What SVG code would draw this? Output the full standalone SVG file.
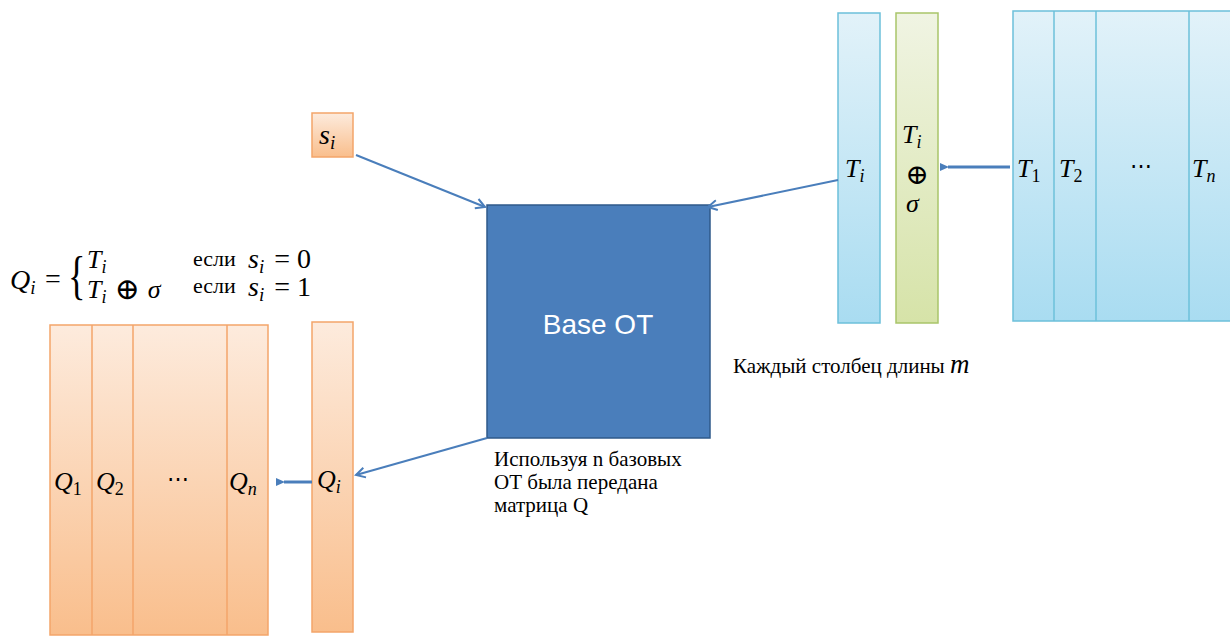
<svg xmlns="http://www.w3.org/2000/svg" width="1230" height="639" viewBox="0 0 1230 639">
<defs>
<linearGradient id="gOrange" x1="0" y1="0" x2="0" y2="1">
<stop offset="0" stop-color="#FDEBDD"/><stop offset="1" stop-color="#F9BE8C"/>
</linearGradient>
<linearGradient id="gBlue" x1="0" y1="0" x2="0" y2="1">
<stop offset="0" stop-color="#E2F2F9"/><stop offset="1" stop-color="#A9DCF1"/>
</linearGradient>
<linearGradient id="gGreen" x1="0" y1="0" x2="0" y2="1">
<stop offset="0" stop-color="#F0F4E3"/><stop offset="1" stop-color="#D6E3A8"/>
</linearGradient>
<marker id="arrOpen" markerWidth="12" markerHeight="12" refX="10" refY="6" orient="auto" markerUnits="userSpaceOnUse">
<path d="M1,1 L10,6 L1,11" fill="none" stroke="#4A7EBB" stroke-width="2"/>
</marker>
<marker id="arrHead" markerWidth="12" markerHeight="10" refX="2" refY="5" orient="auto" markerUnits="userSpaceOnUse">
<path d="M10,1 L1,5 L10,9 Z" fill="#4A7EBB"/>
</marker>
</defs>
<style>
.m{font-family:'Liberation Serif','DejaVu Serif',serif;font-style:italic;fill:#000}
.r{font-family:'Liberation Serif','DejaVu Serif',serif;fill:#000}
.or{fill:url(#gOrange);stroke:#F3A56A;stroke-width:1.5}
.bl{fill:url(#gBlue);stroke:#6CC0DA;stroke-width:1.5}
.gr{fill:url(#gGreen);stroke:#A9C56A;stroke-width:1.5}
.c{stroke:#4A7EBB;stroke-width:2;fill:none}
</style>

<g id="formula">
<text class="m" x="10" y="289" font-size="28">Q<tspan font-size="19" dy="5">i</tspan></text>
<text class="r" x="45" y="288" font-size="28">=</text>
<text class="r" x="68" y="293" font-size="52" transform="translate(68 287) scale(0.7 1) translate(-68 -287)">{</text>
<text class="m" x="87" y="268" font-size="26">T<tspan font-size="18" dy="5">i</tspan></text>
<text class="m" x="87" y="298" font-size="26">T<tspan font-size="18" dy="5">i</tspan><tspan font-style="normal" font-size="30" dy="-4" dx="8">⊕</tspan><tspan dy="-1" dx="8">σ</tspan></text>
<text class="r" x="193" y="266" font-size="22">если</text>
<text class="r" x="193" y="293" font-size="22">если</text>
<text class="m" x="248" y="268" font-size="28">s<tspan font-size="19" dy="5">i</tspan><tspan font-style="normal" dy="-5" dx="10">= 0</tspan></text>
<text class="m" x="248" y="296" font-size="28">s<tspan font-size="19" dy="5">i</tspan><tspan font-style="normal" dy="-5" dx="10">= 1</tspan></text>
</g>

<g id="s-i">
<rect class="or" x="312" y="113" width="41" height="44"/>
<text class="m" x="319" y="144" font-size="28">s<tspan font-size="19" dy="5">i</tspan></text>
</g>

<g id="base-ot">
<rect x="487" y="205" width="223" height="233" fill="#4A7EBB" stroke="#2F5A8A" stroke-width="1.5"/>
<text x="598" y="334" font-family="'Liberation Sans',Arial,sans-serif" font-size="28" fill="#FFFFFF" text-anchor="middle">Base OT</text>
</g>

<g id="col-T-i">
<rect class="bl" x="838" y="13" width="42" height="310"/>
<text class="m" x="845" y="177" font-size="26">T<tspan font-size="18" dy="5">i</tspan></text>
</g>

<g id="col-T-i-xor">
<rect class="gr" x="896" y="13" width="42" height="310"/>
<text class="m" x="902" y="143" font-size="26">T<tspan font-size="18" dy="5">i</tspan></text>
<text class="r" x="917" y="184" font-size="28" text-anchor="middle">⊕</text>
<text class="m" x="906" y="212" font-size="26">σ</text>
</g>

<g id="matrix-T">
<rect class="bl" x="1013" y="11" width="230" height="310"/>
<line x1="1054" y1="11" x2="1054" y2="321" stroke="#6CC0DA" stroke-width="1.5"/>
<line x1="1096" y1="11" x2="1096" y2="321" stroke="#6CC0DA" stroke-width="1.5"/>
<line x1="1189" y1="11" x2="1189" y2="321" stroke="#6CC0DA" stroke-width="1.5"/>
<text class="m" x="1017" y="177" font-size="26">T<tspan font-size="18" font-style="normal" dy="5">1</tspan></text>
<text class="m" x="1059" y="177" font-size="26">T<tspan font-size="18" font-style="normal" dy="5">2</tspan></text>
<text class="r" x="1141" y="173" font-size="22" text-anchor="middle">⋯</text>
<text class="m" x="1192" y="177" font-size="26">T<tspan font-size="18" dy="5">n</tspan></text>
</g>

<g id="col-Q-i">
<rect class="or" x="312" y="322" width="41" height="310"/>
<text class="m" x="317" y="488" font-size="26">Q<tspan font-size="18" dy="5">i</tspan></text>
</g>

<g id="matrix-Q">
<rect class="or" x="50" y="325" width="218" height="310"/>
<line x1="92" y1="325" x2="92" y2="635" stroke="#F3A56A" stroke-width="1.5"/>
<line x1="133" y1="325" x2="133" y2="635" stroke="#F3A56A" stroke-width="1.5"/>
<line x1="227" y1="325" x2="227" y2="635" stroke="#F3A56A" stroke-width="1.5"/>
<text class="m" x="54" y="490" font-size="26">Q<tspan font-size="18" font-style="normal" dy="5">1</tspan></text>
<text class="m" x="96" y="490" font-size="26">Q<tspan font-size="18" font-style="normal" dy="5">2</tspan></text>
<text class="r" x="178" y="486" font-size="22" text-anchor="middle">⋯</text>
<text class="m" x="229" y="490" font-size="26">Q<tspan font-size="18" dy="5">n</tspan></text>
</g>

<g id="notes">
<text class="r" x="733" y="373" font-size="21">Каждый столбец длины <tspan font-style="italic" font-size="27">m</tspan></text>
<text class="r" x="494" y="466" font-size="21">Используя n базовых</text>
<text class="r" x="494" y="489" font-size="21">ОТ была передана</text>
<text class="r" x="494" y="512" font-size="21">матрица Q</text>
</g>

<g id="connectors">
<line class="c" x1="356" y1="155" x2="485" y2="207" marker-end="url(#arrOpen)"/>
<line class="c" x1="838" y1="180" x2="708" y2="207" marker-end="url(#arrOpen)"/>
<line class="c" x1="487" y1="438" x2="356" y2="475" marker-end="url(#arrOpen)"/>
<line x1="1010" y1="167" x2="948" y2="167" stroke="#4A7EBB" stroke-width="3" marker-end="url(#arrHead)"/>
<line x1="312" y1="482" x2="284" y2="482" stroke="#4A7EBB" stroke-width="3" marker-end="url(#arrHead)"/>
</g>
</svg>
